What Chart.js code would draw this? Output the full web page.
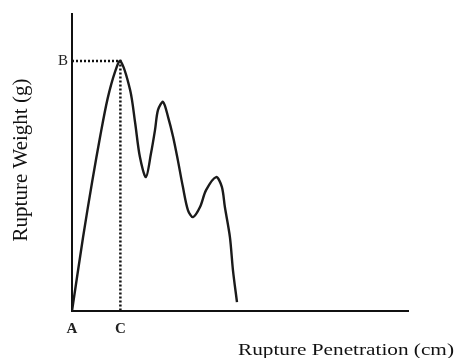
<!DOCTYPE html>
<html>
<head>
<meta charset="utf-8">
<script src="https://cdn.jsdelivr.net/npm/chart.js@4"></script>
<style>
  html, body { margin: 0; padding: 0; background: #fff; }
  #wrap { width: 456px; height: 358px; position: relative; }
</style>
</head>
<body>
<div id="wrap"><canvas id="c" width="456" height="358"></canvas></div>
<script>
// Penetration (cm) and weight (g) samples along the rupture curve
const penetration = [0, 0.33, 0.60, 0.85, 1.06, 1.28, 1.44, 1.73, 1.88, 2.02, 2.20, 2.35, 2.47, 2.56, 2.71, 2.86, 3.01, 3.15, 3.30, 3.45, 3.60, 3.81, 3.99, 4.29, 4.46, 4.55, 4.70, 4.79, 4.91];
const weight      = [0, 2.49, 4.35, 5.95, 7.15, 8.05, 8.42, 7.44, 6.33, 5.19, 4.51, 5.30, 6.09, 6.77, 7.04, 6.53, 5.86, 5.08, 4.18, 3.40, 3.16, 3.50, 4.07, 4.51, 4.18, 3.50, 2.49, 1.38, 0.30];

// Rupture point: B = peak weight, C = penetration at peak
const peakPenetration = 1.44;
const peakWeight = 8.42;

const xTickValues = [0, peakPenetration];
const xTickLabels = ['A', 'C'];
const yTickValues = [peakWeight];
const yTickLabels = ['B'];

const xTitle = 'Rupture Penetration (cm)';
const yTitle = 'Rupture Weight (g)';

const curve = penetration.map((x, i) => ({ x: x, y: weight[i] }));
const guide = [
  { x: 0, y: peakWeight },
  { x: peakPenetration, y: peakWeight },
  { x: peakPenetration, y: 0 }
];

const titles = {
  id: 'axisTitles',
  afterDraw(chart) {
    const ctx = chart.ctx;
    ctx.save();
    ctx.fillStyle = '#111';
    // horizontal title, right side under the axis
    ctx.font = '17px "Liberation Serif", serif';
    ctx.textBaseline = 'alphabetic';
    ctx.textAlign = 'left';
    ctx.save();
    ctx.translate(238, 355);
    ctx.scale(1.25, 1);
    ctx.fillText(xTitle, 0, 0);
    ctx.restore();
    // vertical title
    ctx.save();
    ctx.font = '21px "Liberation Serif", serif';
    ctx.translate(27, 160);
    ctx.rotate(-Math.PI / 2);
    ctx.textAlign = 'center';
    ctx.fillText(yTitle, 0, 0);
    ctx.restore();
    ctx.restore();
  }
};

new Chart(document.getElementById('c'), {
  type: 'line',
  data: {
    datasets: [
      {
        data: curve,
        borderColor: '#1a1a1a',
        borderWidth: 2.4,
        pointRadius: 0,
        fill: false,
        tension: 0.3
      },
      {
        data: guide,
        borderColor: '#111',
        borderWidth: 2.5,
        borderDash: [2, 2],
        pointRadius: 0,
        fill: false,
        tension: 0
      }
    ]
  },
  plugins: [titles],
  options: {
    responsive: false,
    animation: false,
    layout: { padding: { left: 0, right: 48, top: 14, bottom: 0 } },
    plugins: {
      legend: { display: false },
      tooltip: { enabled: false }
    },
    scales: {
      x: {
        type: 'linear',
        min: 0,
        max: 10,
        afterFit(scale) { scale.height = 47; },
        afterBuildTicks(scale) { scale.ticks = xTickValues.map(v => ({ value: v })); },
        grid: { display: true, color: 'rgba(0,0,0,0)', drawTicks: false },
        border: { display: true, color: '#111', width: 2 },
        ticks: {
          padding: 9,
          maxRotation: 0,
          autoSkip: false,
          color: '#222',
          font: { family: '"Liberation Serif", serif', size: 15, weight: 'bold' },
          callback: (v) => xTickLabels[xTickValues.indexOf(v)]
        }
      },
      y: {
        type: 'linear',
        min: 0,
        max: 10,
        afterFit(scale) { scale.width = 72; },
        afterBuildTicks(scale) { scale.ticks = yTickValues.map(v => ({ value: v })); },
        grid: { display: true, color: 'rgba(0,0,0,0)', drawTicks: false },
        border: { display: true, color: '#111', width: 2 },
        ticks: {
          padding: 4,
          autoSkip: false,
          color: '#222',
          font: { family: '"Liberation Serif", serif', size: 15 },
          callback: (v) => yTickLabels[yTickValues.indexOf(v)]
        }
      }
    }
  }
});
</script>
</body>
</html>
